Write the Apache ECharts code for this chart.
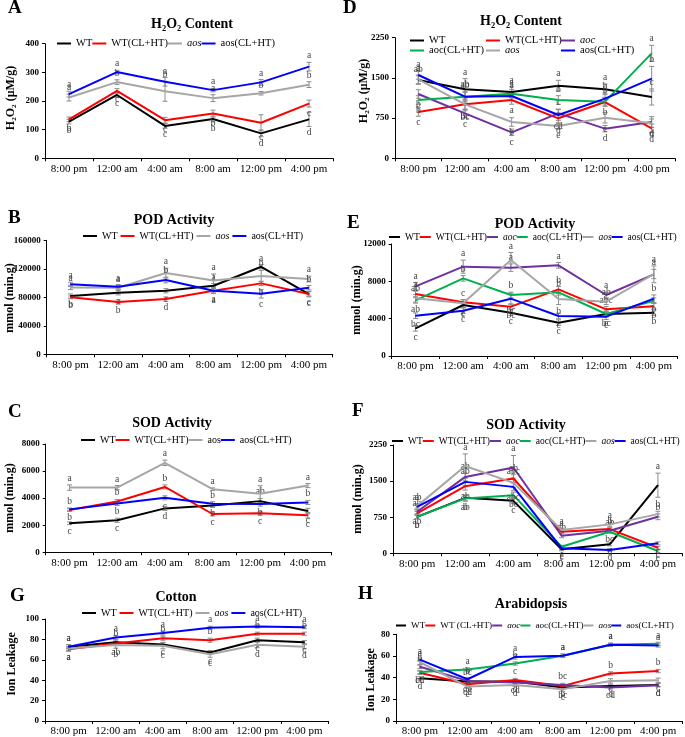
<!DOCTYPE html>
<html><head><meta charset="utf-8">
<script src="https://cdn.jsdelivr.net/npm/echarts@6/dist/echarts.min.js"></script>
<style>
html,body{margin:0;padding:0;background:#fff;width:685px;height:737px;overflow:hidden}
.p{position:absolute;left:0;top:0;width:685px;height:737px}
</style>
</head><body>
<div id="wrap"></div>
<script>
// ---------- categories ----------
const categories = ['8:00 pm','12:00 am','4:00 am','8:00 am','12:00 pm','4:00 pm'];

// ---------- Panel A: H2O2 content (cotton) ----------
const aWT      = [128, 221, 113, 137, 87, 136];
const aWTCL    = [136, 235, 133, 156, 124, 191];
const aAos     = [212, 266, 234, 210, 227, 257];
const aAosCL   = [224, 301, 267, 238, 265, 320];
const aWT_E    = [8, 8, 8, 10, 12, 25];
const aWTCL_E  = [8, 8, 10, 12, 28, 12];
const aAos_E   = [12, 8, 35, 12, 6, 10];
const aAosCL_E = [10, 6, 15, 6, 10, 15];
const aWT_L    = ['b','c','c','b','d','d'];
const aWTCL_L  = ['b','c','c','b','c','c'];
const aAos_L   = ['a','b','b','a','b','b'];
const aAosCL_L = ['a','a','a','a','a','a'];

// ---------- Panel B: POD activity (cotton) ----------
const bWT      = [82000, 86700, 89500, 96600, 123300, 84900];
const bWTCL    = [80200, 73600, 77800, 89500, 99900, 85000];
const bAos     = [94200, 93800, 114400, 104100, 110200, 106000];
const bAosCL   = [98500, 95200, 104600, 89500, 85300, 93800];
const bWT_E    = [3000, 3000, 3000, 3000, 3000, 4000];
const bWTCL_E  = [2000, 3000, 3000, 3000, 3000, 3000];
const bAos_E   = [3000, 3000, 7000, 9000, 8000, 4000];
const bAosCL_E = [3000, 3000, 4000, 4000, 6000, 3000];
const bWT_L    = ['b','a','c','a','a','c'];
const bWTCL_L  = ['b','b','d','a','b','c'];
const bAos_L   = ['a','a','a','a','b','a'];
const bAosCL_L = ['a','a','b','a','c','b'];

// ---------- Panel C: SOD activity (cotton) ----------
const cWT      = [2146, 2366, 3244, 3463, 3780, 3049];
const cWTCL    = [3122, 3756, 4829, 2829, 2878, 2732];
const cAos     = [4780, 4780, 6610, 4659, 4317, 4927];
const cAosCL   = [3171, 3610, 4024, 3585, 3561, 3683];
const cWT_E    = [100, 150, 150, 150, 200, 200];
const cWTCL_E  = [100, 150, 150, 150, 150, 200];
const cAos_E   = [200, 150, 200, 100, 600, 150];
const cAosCL_E = [100, 150, 150, 150, 150, 150];
const cWT_L    = ['c','c','d','b','ab','c'];
const cWTCL_L  = ['b','b','b','c','c','c'];
const cAos_L   = ['a','a','a','a','a','a'];
const cAosCL_L = ['b','b','c','b','b','b'];

// ---------- Panel D: H2O2 content (Arabidopsis) ----------
const dWT      = [1460, 1287, 1237, 1355, 1287, 1144];
const dWTCL    = [864, 1007, 1088, 746, 1050, 559];
const dAoc     = [1200, 839, 485, 839, 553, 677];
const dAocCL   = [1088, 1150, 1206, 1088, 1057, 1958];
const dAos     = [1473, 1007, 677, 603, 758, 653];
const dAosCL   = [1554, 1150, 1162, 808, 1113, 1485];
const dWT_E    = [80, 200, 100, 100, 100, 150];
const dWTCL_E  = [80, 100, 80, 100, 80, 80];
const dAoc_E   = [80, 80, 60, 80, 60, 100];
const dAocCL_E = [80, 80, 80, 80, 80, 150];
const dAos_E   = [80, 120, 80, 60, 100, 80];
const dAosCL_E = [80, 100, 80, 100, 100, 230];
const dWT_L    = ['ab','a','a','a','a','c'];
const dWTCL_L  = ['c','bc','a','d','b','d'];
const dAoc_L   = ['b','c','c','c','d','d'];
const dAocCL_L = ['b','ab','a','b','b','a'];
const dAos_L   = ['a','bc','b','e','c','d'];
const dAosCL_L = ['a','ab','a','cd','b','b'];

// ---------- Panel E: POD activity (Arabidopsis) ----------
const eWT      = [2964, 5464, 4643, 3571, 4500, 4643];
const eWTCL    = [6643, 5750, 5286, 7143, 5000, 5321];
const eAoc     = [7464, 9571, 9464, 9714, 6536, 8750];
const eAocCL   = [5964, 8321, 6536, 6821, 4500, 5929];
const eAos     = [6179, 5643, 10286, 6107, 5821, 8786];
const eAosCL   = [4321, 4857, 6143, 4286, 4214, 6143];
const eWT_E    = [300, 300, 300, 300, 300, 300];
const eWTCL_E  = [300, 300, 300, 300, 300, 300];
const eAoc_E   = [400, 700, 400, 300, 300, 900];
const eAocCL_E = [300, 300, 300, 300, 300, 300];
const eAos_E   = [400, 400, 800, 600, 300, 500];
const eAosCL_E = [300, 300, 600, 300, 300, 400];
const eWT_L    = ['c','c','c','c','c','b'];
const eWTCL_L  = ['a','c','bc','b','abc','b'];
const eAoc_L   = ['a','a','a','a','a','a'];
const eAocCL_L = ['ab','b','b','b','bc','b'];
const eAos_L   = ['ab','c','a','b','ab','a'];
const eAosCL_L = ['bc','c','bc','c','c','b'];

// ---------- Panel F: SOD activity (Arabidopsis) ----------
const fWT      = [758, 1152, 1090, 83, 186, 1415];
const fWTCL    = [829, 1394, 1554, 448, 503, 116];
const fAoc     = [862, 1587, 1782, 365, 468, 758];
const fAocCL   = [758, 1140, 1208, 137, 448, 48];
const fAos     = [980, 1815, 1463, 483, 601, 814];
const fAosCL   = [966, 1484, 1380, 104, 68, 207];
const fWT_E    = [40, 60, 60, 30, 30, 250];
const fWTCL_E  = [40, 80, 80, 30, 30, 30];
const fAoc_E   = [40, 80, 250, 40, 40, 60];
const fAocCL_E = [40, 60, 60, 30, 30, 30];
const fAos_E   = [40, 250, 100, 40, 40, 60];
const fAosCL_E = [60, 80, 80, 30, 30, 30];
const fWT_L    = ['b','b','c','c','d','a'];
const fWTCL_L  = ['ab','ab','ab','a','b','c'];
const fAoc_L   = ['ab','ab','a','ab','ab','b'];
const fAocCL_L = ['b','ab','bc','c','bc','c'];
const fAos_L   = ['ab','a','abc','a','a','b'];
const fAosCL_L = ['a','ab','abc','c','d','c'];

// ---------- Panel G: Ion leakage (cotton) ----------
const gWT      = [72.8, 77.3, 75.1, 67.1, 79.2, 77.3];
const gWTCL    = [70.3, 76.0, 81.2, 79.2, 85.6, 85.6];
const gAos     = [71.0, 74.4, 73.8, 65.5, 74.8, 72.8];
const gAosCL   = [72.8, 81.8, 86.3, 91.4, 92.7, 92.0];
const gWT_E    = [2, 2, 2, 2, 2, 1.5];
const gWTCL_E  = [2, 2, 2, 2, 1.5, 1.5];
const gAos_E   = [2, 3, 3, 3, 3, 2];
const gAosCL_E = [2, 2, 2, 1.5, 1.5, 1.5];
const gWT_L    = ['a','b','c','c','c','c'];
const gWTCL_L  = ['a','ab','b','b','b','b'];
const gAos_L   = ['a','b','c','c','d','d'];
const gAosCL_L = ['a','a','a','a','a','a'];

// ---------- Panel H: Ion leakage (Arabidopsis) ----------
const hWT      = [39.4, 36.4, 36.4, 30.9, 32.4, 33.3];
const hWTCL    = [44.5, 33.9, 37.9, 32.4, 43.9, 46.1];
const hAoc     = [50.0, 37.0, 35.5, 33.3, 30.9, 33.0];
const hAocCL   = [45.2, 47.6, 53.0, 60.3, 70.3, 71.2];
const hAos     = [54.2, 31.8, 33.3, 29.4, 37.0, 37.6];
const hAosCL   = [56.7, 38.5, 59.1, 60.3, 70.3, 69.7];
const hWT_E    = [1.5, 1.5, 1.5, 1.5, 1.5, 1.5];
const hWTCL_E  = [1.5, 1.5, 1.5, 1.5, 1.5, 1.5];
const hAoc_E   = [1.5, 1.5, 1.5, 1.5, 1.5, 1.5];
const hAocCL_E = [1.5, 1.5, 1.5, 1.5, 1.5, 1.5];
const hAos_E   = [2, 1.5, 1.5, 2, 2, 2];
const hAosCL_E = [1.5, 1.5, 2, 1.5, 1.5, 1.5];
const hWT_L    = ['d','de','d','bc','d','d'];
const hWTCL_L  = ['cd','cd','c','b','b','b'];
const hAoc_L   = ['b','bc','cd','bc','cd','d'];
const hAocCL_L = ['bc','a','b','a','a','a'];
const hAos_L   = ['a','e','d','c','c','c'];
const hAosCL_L = ['a','b','a','a','a','a'];

// ---------- styling ----------
const COL = {WT:'#000000', WTCL:'#ff0000', aoc:'#7030a0', aocCL:'#00b050', aos:'#a6a6a6', aosCL:'#0000ff'};
const SERIF = '"Liberation Serif","Times New Roman",serif';

function S(name, color, data, err, letters){ return {name, color, data, err, letters}; }

const L4 = ['WT','WT(CL+HT)','aos','aos(CL+HT)'];
const L6 = ['WT','WT(CL+HT)','aoc','aoc(CL+HT)','aos','aos(CL+HT)'];

const panels = [
 {letter:'A', lp:[8,8], title:'H₂O₂ Content', tp:[192,24], yname:'H₂O₂ (μM/g)', yp:[11,98],
  grid:{left:45, top:43.7, width:288, height:114.6}, max:400, interval:100,
  italic:['aos'],
  series:[S('WT',COL.WT,aWT,aWT_E,aWT_L), S('WT(CL+HT)',COL.WTCL,aWTCL,aWTCL_E,aWTCL_L), S('aos',COL.aos,aAos,aAos_E,aAos_L), S('aos(CL+HT)',COL.aosCL,aAosCL,aAosCL_E,aAosCL_L)],
  legends:[{left:57, top:38, gap:0, font:10.5, iw:14, items:L4}]},
 {letter:'B', lp:[8,218], title:'POD Activity', tp:[174,220], yname:'mmol (min.g)', yp:[10,298],
  grid:{left:46.7, top:240.7, width:286, height:113.6}, max:160000, interval:40000,
  italic:['aos'],
  series:[S('WT',COL.WT,bWT,bWT_E,bWT_L), S('WT(CL+HT)',COL.WTCL,bWTCL,bWTCL_E,bWTCL_L), S('aos',COL.aos,bAos,bAos_E,bAos_L), S('aos(CL+HT)',COL.aosCL,bAosCL,bAosCL_E,bAosCL_L)],
  legends:[{left:83, top:231, gap:3, font:10, iw:14, items:L4}]},
 {letter:'C', lp:[8,412], title:'SOD Activity', tp:[172,423], yname:'mmol (min.g)', yp:[10,498],
  grid:{left:45.7, top:444, width:286, height:108.3}, max:8000, interval:2000,
  italic:[],
  series:[S('WT',COL.WT,cWT,cWT_E,cWT_L), S('WT(CL+HT)',COL.WTCL,cWTCL,cWTCL_E,cWTCL_L), S('aos',COL.aos,cAos,cAos_E,cAos_L), S('aos(CL+HT)',COL.aosCL,cAosCL,cAosCL_E,cAosCL_L)],
  legends:[{left:81, top:435, gap:0, font:10, iw:14, items:L4}]},
 {letter:'G', lp:[10,596], title:'Cotton', tp:[176,597], yname:'Ion Leakage', yp:[12,664],
  grid:{left:45, top:619, width:283, height:104.3}, max:100, interval:20,
  italic:['aos'],
  series:[S('WT',COL.WT,gWT,gWT_E,gWT_L), S('WT(CL+HT)',COL.WTCL,gWTCL,gWTCL_E,gWTCL_L), S('aos',COL.aos,gAos,gAos_E,gAos_L), S('aos(CL+HT)',COL.aosCL,gAosCL,gAosCL_E,gAosCL_L)],
  legends:[{left:82, top:608, gap:3, font:10, iw:14, items:L4}]},
 {letter:'D', lp:[343,8], title:'H₂O₂ Content', tp:[521,21], yname:'H₂O₂ (μM/g)', yp:[364,91],
  grid:{left:395, top:37.7, width:280, height:120.6}, max:2250, interval:750,
  italic:['aoc','aos'],
  series:[S('WT',COL.WT,dWT,dWT_E,dWT_L), S('WT(CL+HT)',COL.WTCL,dWTCL,dWTCL_E,dWTCL_L), S('aoc',COL.aoc,dAoc,dAoc_E,dAoc_L), S('aoc(CL+HT)',COL.aocCL,dAocCL,dAocCL_E,dAocCL_L), S('aos',COL.aos,dAos,dAos_E,dAos_L), S('aos(CL+HT)',COL.aosCL,dAosCL,dAosCL_E,dAosCL_L)],
  legends:[{left:410, top:35, gap:0, font:10.5, iw:14, items:['WT']},{left:486, top:35, gap:0, font:10.5, iw:14, items:['WT(CL+HT)']},{left:561, top:35, gap:0, font:10.5, iw:14, items:['aoc']},
           {left:410, top:45, gap:0, font:10.5, iw:14, items:['aoc(CL+HT)']},{left:486, top:45, gap:0, font:10.5, iw:14, items:['aos']},{left:561, top:45, gap:0, font:10.5, iw:14, items:['aos(CL+HT)']}]},
 {letter:'E', lp:[347,223], title:'POD Activity', tp:[535,224], yname:'mmol (min.g)', yp:[357,300],
  grid:{left:391.7, top:244, width:286, height:112}, max:12000, interval:4000,
  italic:['aoc','aos'],
  series:[S('WT',COL.WT,eWT,eWT_E,eWT_L), S('WT(CL+HT)',COL.WTCL,eWTCL,eWTCL_E,eWTCL_L), S('aoc',COL.aoc,eAoc,eAoc_E,eAoc_L), S('aoc(CL+HT)',COL.aocCL,eAocCL,eAocCL_E,eAocCL_L), S('aos',COL.aos,eAos,eAos_E,eAos_L), S('aos(CL+HT)',COL.aosCL,eAosCL,eAosCL_E,eAosCL_L)],
  legends:[{left:389, top:232, gap:0, font:9.5, iw:11, items:L6}]},
 {letter:'F', lp:[352,411], title:'SOD Activity', tp:[526,425], yname:'mmol (min.g)', yp:[358,499],
  grid:{left:393, top:445, width:289, height:108.3}, max:2250, interval:750,
  italic:['aoc','aos'],
  series:[S('WT',COL.WT,fWT,fWT_E,fWT_L), S('WT(CL+HT)',COL.WTCL,fWTCL,fWTCL_E,fWTCL_L), S('aoc',COL.aoc,fAoc,fAoc_E,fAoc_L), S('aoc(CL+HT)',COL.aocCL,fAocCL,fAocCL_E,fAocCL_L), S('aos',COL.aos,fAos,fAos_E,fAos_L), S('aos(CL+HT)',COL.aosCL,fAosCL,fAosCL_E,fAosCL_L)],
  legends:[{left:392, top:436, gap:0, font:9.5, iw:11, items:L6}]},
 {letter:'H', lp:[358,594], title:'Arabidopsis', tp:[531,604], yname:'Ion Leakage', yp:[371,680],
  grid:{left:396, top:634.3, width:286, height:88}, max:80, interval:20,
  italic:['aoc','aos'],
  series:[S('WT',COL.WT,hWT,hWT_E,hWT_L), S('WT (CL+HT)',COL.WTCL,hWTCL,hWTCL_E,hWTCL_L), S('aoc',COL.aoc,hAoc,hAoc_E,hAoc_L), S('aoc(CL+HT)',COL.aocCL,hAocCL,hAocCL_E,hAocCL_L), S('aos',COL.aos,hAos,hAos_E,hAos_L), S('aos(CL+HT)',COL.aosCL,hAosCL,hAosCL_E,hAosCL_L)],
  legends:[{left:396, top:621, gap:0, font:9.2, iw:10, items:['WT','WT (CL+HT)','aoc','aoc(CL+HT)','aos','aos(CL+HT)']}]}
];

function renderErr(params, api){
  const ci = api.value(0), v = api.value(1), e = api.value(2);
  const top = api.coord([ci, v + e]);
  const bot = api.coord([ci, v - e]);
  const w = 2.5;
  const st = {stroke:'#8c8c8c', lineWidth:1};
  return {type:'group', children:[
    {type:'line', shape:{x1:top[0], y1:top[1], x2:bot[0], y2:bot[1]}, style:st},
    {type:'line', shape:{x1:top[0]-w, y1:top[1], x2:top[0]+w, y2:top[1]}, style:st},
    {type:'line', shape:{x1:bot[0]-w, y1:bot[1], x2:bot[0]+w, y2:bot[1]}, style:st}
  ]};
}

const wrap = document.getElementById('wrap');
panels.forEach((p) => {
  const div = document.createElement('div');
  div.className = 'p';
  wrap.appendChild(div);
  const chart = echarts.init(div, null, {renderer:'canvas', width:685, height:737});
  const series = [];
  p.series.forEach((s) => {
    series.push({
      type:'custom', name:s.name + ' err', renderItem:renderErr, silent:true, z:1,
      data:s.data.map((v, ci) => [ci, v, s.err[ci]]), encode:{x:0, y:1}
    });
  });
  p.series.forEach((s, si) => {
    const items = s.data.map((v, ci) => {
      const vals = p.series.map(o => o.data[ci]).slice().sort((a,b)=>a-b);
      const rank = vals.indexOf(v);
      const upper = rank >= p.series.length/2;
      const errPx = s.err[ci] / p.max * p.grid.height;
      return {value:v, label:{show:true, formatter:s.letters[ci], position: upper ? 'top' : 'bottom', distance: 1 + errPx}};
    });
    series.push({
      name:s.name, type:'line', data:items, symbol:'circle', symbolSize:1, showSymbol:true,
      itemStyle:{color:s.color}, lineStyle:{color:s.color, width:2}, z: 2 + si,
      label:{show:true, fontFamily:SERIF, fontSize:9.5, color:'#444'},
      labelLayout:{hideOverlap:false},
      emphasis:{disabled:true}, animation:false
    });
  });
  const legends = p.legends.map(l => ({
    left:l.left, top:l.top, width:400, itemGap:l.gap, itemWidth:l.iw, itemHeight:2, icon:'rect',
    padding:0, data:l.items.map(name => ({name})),
    textStyle:{fontFamily:SERIF, fontSize:l.font, color:'#000',
      rich:{i:{fontFamily:SERIF, fontSize:l.font, fontStyle:'italic', color:'#000'}}},
    formatter: name => p.italic.indexOf(name) >= 0 ? '{i|' + name + '}' : name,
    selectedMode:false
  }));
  const graphic = [
    {type:'text', x:p.lp[0], y:p.lp[1], style:{text:p.letter, font:'bold 19px ' + SERIF, fill:'#000', textAlign:'left', textVerticalAlign:'middle'}},
    {type:'text', x:p.tp[0], y:p.tp[1], style:{text:p.title, font:'bold 14px ' + SERIF, fill:'#000', textAlign:'center', textVerticalAlign:'middle'}},
    {type:'text', x:p.yp[0], y:p.yp[1], rotation:Math.PI/2, style:{text:p.yname, font:'bold 12px ' + SERIF, fill:'#000', textAlign:'center', textVerticalAlign:'middle'}}
  ];
  chart.setOption({
    animation:false,
    backgroundColor:'transparent',
    grid:p.grid,
    legend:legends,
    graphic:graphic,
    xAxis:{type:'category', data:categories, boundaryGap:true,
      axisLine:{lineStyle:{color:'#000', width:1}},
      axisTick:{show:true, length:3, lineStyle:{color:'#000'}},
      axisLabel:{fontFamily:SERIF, fontSize:11, color:'#000', margin:5, interval:0}},
    yAxis:{type:'value', min:0, max:p.max, interval:p.interval,
      axisLine:{show:true, lineStyle:{color:'#000', width:1}},
      axisTick:{show:true, length:3, lineStyle:{color:'#000'}},
      splitLine:{show:false},
      axisLabel:{fontFamily:SERIF, fontSize:9, fontWeight:'bold', color:'#000', margin:6, formatter: v => String(v)}},
    series:series
  });
});
</script>
</body></html>
